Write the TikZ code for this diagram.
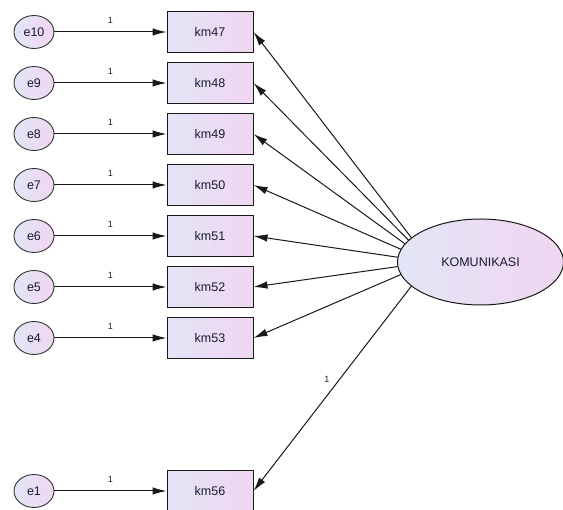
\documentclass[tikz,border=0pt]{standalone}
\usepackage{fontspec}
\setmainfont{Liberation Sans}
\usetikzlibrary{arrows.meta,shapes.geometric}
\definecolor{fillL}{RGB}{226,229,245}
\definecolor{fillR}{RGB}{241,214,241}
\definecolor{txt}{RGB}{25,25,55}
\tikzset{
  every node/.style={font=\fontsize{12.5}{14}\selectfont, text=txt},
  errnode/.style={ellipse, draw=black!80, line width=0.9pt, minimum width=40pt, minimum height=33pt, inner sep=0pt, left color=fillL, right color=fillR},
  obsnode/.style={rectangle, draw=black!90, line width=1pt, minimum width=86pt, minimum height=41pt, inner sep=0pt, left color=fillL, right color=fillR},
  latnode/.style={ellipse, draw=black!90, line width=1pt, minimum width=166pt, minimum height=86pt, inner sep=0pt, left color=fillL, right color=fillR},
  path/.style={draw=black!90, line width=1pt, -{Latex[length=14pt,width=7.5pt]}},
  wlabel/.style={font=\fontsize{9}{10}\selectfont, text=txt, inner sep=0pt}
}
\begin{document}
\begin{tikzpicture}[x=1pt,y=-1pt]
\useasboundingbox (0,0) rectangle (563,510);
\coordinate (Kf) at (430,262);
\foreach \e/\k/\r in {e10/km47/0, e9/km48/1, e8/km49/2, e7/km50/3, e6/km51/4, e5/km52/5, e4/km53/6, e1/km56/9}{
  \node[errnode] (\e) at (34,{32+51*\r}) {\e};
  \node[obsnode] (\k) at (210,{32+51*\r}) {\k};
  \draw[path] (\e) -- node[wlabel, above=8pt] {1} (\k);
}
\foreach \k in {km47,km48,km49,km50,km51,km52,km53}{
  \draw[path] (Kf) -- (\k.east);
}
\draw[path] (Kf) -- (km56.east);
\node[latnode] (K) at (480.5,262) {KOMUNIKASI};
\node[wlabel] (w56) at (327,379) {1};
\end{tikzpicture}
\end{document}
